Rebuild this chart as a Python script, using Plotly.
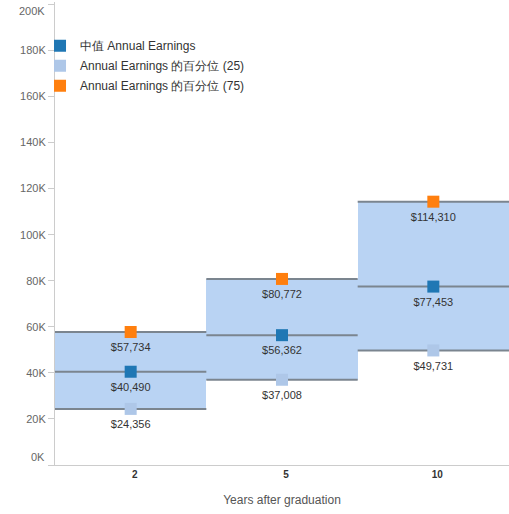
import plotly.graph_objects as go

categories = ["2", "5", "10"]
p25 = [24356, 37008, 49731]
median = [40490, 56362, 77453]
p75 = [57734, 80772, 114310]
y_ticks = [0, 20000, 40000, 60000, 80000, 100000, 120000, 140000, 160000, 180000, 200000]
y_tick_labels = ["0K", "20K", "40K", "60K", "80K", "100K", "120K", "140K", "160K", "180K", "200K"]

name_med = "中值 Annual Earnings"
name_p25 = "Annual Earnings 的百分位 (25)"
name_p75 = "Annual Earnings 的百分位 (75)"

C_MED = "#1f77b4"
C_P25 = "#aec7e8"
C_P75 = "#ff7f0e"
BOX = "#b9d3f3"
LINE = "#7b858f"
FONT = "Arial, Liberation Sans, sans-serif"

xs = list(range(len(categories)))

fig = go.Figure()

# boxes from p25 to p75
fig.add_trace(go.Bar(
    x=xs, y=[b - a for a, b in zip(p25, p75)], base=p25, width=1,
    marker=dict(color=BOX, line=dict(width=0)), showlegend=False, hoverinfo="skip"))

# horizontal lines at each level
for vals in (p25, median, p75):
    lx, ly = [], []
    for i, v in zip(xs, vals):
        lx += [i - 0.5, i + 0.5, None]
        ly += [v, v, None]
    fig.add_trace(go.Scatter(x=lx, y=ly, mode="lines", line=dict(color=LINE, width=2),
                             showlegend=False, hoverinfo="skip"))

# markers
for k, (vals, nm, col) in enumerate(((median, name_med, C_MED), (p25, name_p25, C_P25), (p75, name_p75, C_P75))):
    fig.add_trace(go.Scatter(x=xs, y=vals, mode="markers", name=nm, legendgroup="g%d" % k,
                             marker=dict(symbol="square", size=12, color=col, line=dict(width=0))))

# value labels (invisible marker so text sits below the square)
for vals in (median, p25, p75):
    fig.add_trace(go.Scatter(x=xs, y=vals, mode="markers+text",
                             marker=dict(size=16, opacity=0),
                             text=["${:,}".format(v) for v in vals],
                             textposition="bottom center",
                             textfont=dict(size=11, color="#333333", family=FONT),
                             showlegend=False, hoverinfo="skip"))

tick_text = [("" if v in (y_ticks[0], y_ticks[-1]) else t) for v, t in zip(y_ticks, y_tick_labels)]

fig.update_layout(
    width=509, height=514,
    margin=dict(l=55, r=0, t=2, b=49, autoexpand=False),
    plot_bgcolor="white", paper_bgcolor="white",
    font=dict(family=FONT, color="#333333"),
    bargap=0,
    legend=dict(x=-0.033, y=0.937, xanchor="left", yanchor="top",
                font=dict(size=12, color="#333333", family=FONT), bgcolor="rgba(0,0,0,0)",
                itemwidth=30, traceorder="grouped", tracegroupgap=1),
    xaxis=dict(range=[-0.5, 2.5], tickvals=xs, ticktext=["<b>%s</b>" % c for c in categories],
               tickfont=dict(size=10, color="#333333"), showgrid=False, zeroline=False,
               showline=True, linecolor="#cccccc", linewidth=1, ticks="", ticklabelshift=4,
               automargin=False,
               title=dict(text="Years after graduation", font=dict(size=12, color="#555555"), standoff=16)),
    yaxis=dict(range=[0, 201000], tickvals=y_ticks, ticktext=tick_text,
               tickfont=dict(size=11, color="#666666"), showgrid=False, zeroline=False,
               showline=True, linecolor="#cccccc", linewidth=1, ticks="outside",
               ticklen=6, tickcolor="#cccccc", automargin=False),
)

for v, t, shift in ((y_ticks[0], y_tick_labels[0], 8), (y_ticks[-1], y_tick_labels[-1], -7)):
    fig.add_annotation(x=0, xref="paper", xanchor="right", xshift=-8, y=v, yref="y",
                       yshift=shift, text=t, showarrow=False,
                       font=dict(size=11, color="#666666"))

fig.write_html("out.html", config={"displayModeBar": False},
               post_script="document.body.style.margin='0';document.body.style.overflow='hidden';")
